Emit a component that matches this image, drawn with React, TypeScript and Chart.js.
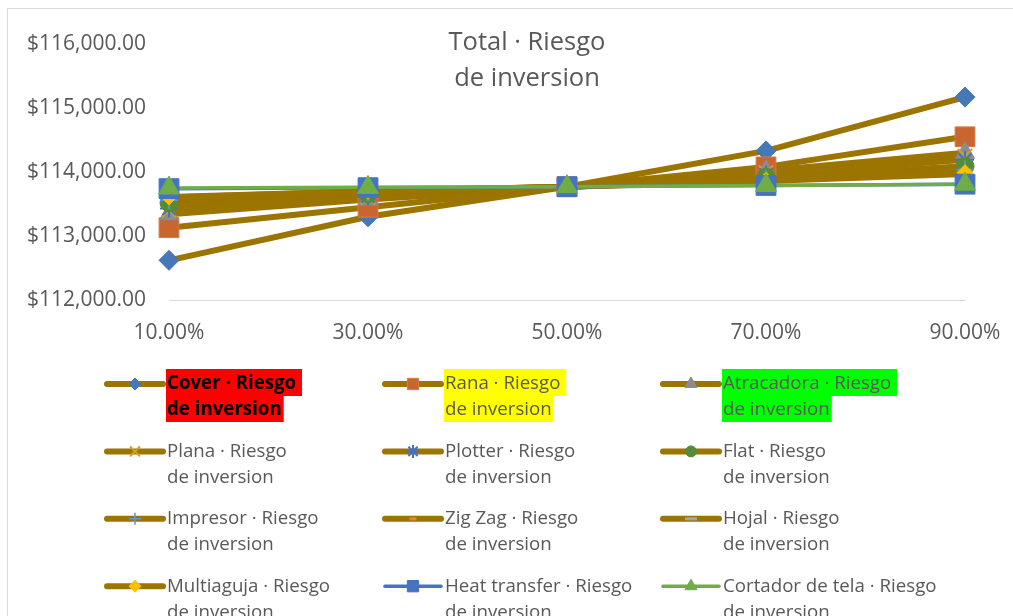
import { useEffect, useRef } from 'react';
import Chart from 'chart.js/auto';
import { drawPoint } from 'chart.js/helpers';

// Investment-risk sensitivity: total vs. risk level, one series per machine
const riskLevels = ['10.00%', '30.00%', '50.00%', '70.00%', '90.00%'];
const yMin = 112000;
const yMax = 116000;
const yStep = 1000;

const seriesNames = [
  'Cover', 'Rana', 'Atracadora',
  'Plana', 'Plotter', 'Flat',
  'Impresor', 'Zig Zag', 'Hojal',
  'Multiaguja', 'Heat transfer', 'Cortador de tela',
];

const cover = [112620, 113300, 113770, 114330, 115170];
const rana = [113130, 113450, 113770, 114080, 114550];
const atracadora = [113340, 113570, 113770, 114020, 114300];
const plana = [113400, 113600, 113770, 113990, 114250];
const plotter = [113430, 113620, 113770, 113960, 114190];
const flat = [113520, 113660, 113770, 113920, 114090];
const impresor = [113560, 113680, 113770, 113890, 114040];
const zigZag = [113580, 113690, 113770, 113880, 114010];
const hojal = [113600, 113700, 113770, 113860, 113970];
const multiaguja = [113610, 113700, 113770, 113870, 113990];
const heatTransfer = [113740, 113755, 113770, 113790, 113810];
const cortadorTela = [113750, 113760, 113770, 113790, 113810];

const seriesValues = [
  cover, rana, atracadora, plana, plotter, flat,
  impresor, zigZag, hojal, multiaguja, heatTransfer, cortadorTela,
];

const BROWN = '#9C7400';
const TEXT = '#595959';
const FONT = '"Open Sans", sans-serif';

type Style = {
  line: string;
  lineWidth: number;
  marker: string;
  fill: string;
  stroke: string;
  markerWidth: number;
  radius: number;
  legendRadius: number;
  highlight?: string;
  bold?: boolean;
};

const styles: Style[] = [
  { line: BROWN, lineWidth: 6, marker: 'rectRot', fill: '#4677B7', stroke: '#4677B7', markerWidth: 1, radius: 10, legendRadius: 6, highlight: '#FF0000', bold: true },
  { line: BROWN, lineWidth: 6, marker: 'rect', fill: '#C9652E', stroke: '#D9794A', markerWidth: 1, radius: 14, legendRadius: 8, highlight: '#FFFF00' },
  { line: BROWN, lineWidth: 6, marker: 'triangle', fill: '#8C8C8C', stroke: '#8C8C8C', markerWidth: 1, radius: 11, legendRadius: 7, highlight: '#00FF00' },
  { line: BROWN, lineWidth: 6, marker: 'crossRot', fill: '#C9A227', stroke: '#C9A227', markerWidth: 2, radius: 10, legendRadius: 7 },
  { line: BROWN, lineWidth: 6, marker: 'star', fill: '#4472C4', stroke: '#4472C4', markerWidth: 2, radius: 9, legendRadius: 6.5 },
  { line: BROWN, lineWidth: 6, marker: 'circle', fill: '#558B3A', stroke: '#558B3A', markerWidth: 1, radius: 9, legendRadius: 5.5 },
  { line: BROWN, lineWidth: 6, marker: 'cross', fill: '#5B9BD5', stroke: '#5B9BD5', markerWidth: 1.5, radius: 9, legendRadius: 6 },
  { line: BROWN, lineWidth: 6, marker: 'line', fill: '#ED7D31', stroke: '#ED7D31', markerWidth: 3, radius: 5, legendRadius: 3.5 },
  { line: BROWN, lineWidth: 6, marker: 'line', fill: '#A5A5A5', stroke: '#A5A5A5', markerWidth: 3, radius: 6, legendRadius: 6 },
  { line: BROWN, lineWidth: 6, marker: 'rectRot', fill: '#FFC000', stroke: '#FFC000', markerWidth: 1, radius: 8, legendRadius: 6 },
  { line: '#4472C4', lineWidth: 3.5, marker: 'rect', fill: '#4472C4', stroke: '#4472C4', markerWidth: 1, radius: 14, legendRadius: 8 },
  { line: '#70AD47', lineWidth: 3.5, marker: 'triangle', fill: '#70AD47', stroke: '#70AD47', markerWidth: 1, radius: 12, legendRadius: 7 },
];

const money = (v: number) =>
  '$' + v.toLocaleString('en-US', { minimumFractionDigits: 2, maximumFractionDigits: 2 });

// Outer frame and two-line title, drawn over the plot like a spreadsheet chart
const framePlugin = {
  id: 'frameAndTitle',
  beforeDraw(chart: any) {
    const ctx = chart.ctx;
    ctx.save();
    ctx.fillStyle = '#FFFFFF';
    ctx.fillRect(0, 0, chart.width, chart.height);
    ctx.strokeStyle = '#D9D9D9';
    ctx.lineWidth = 1;
    ctx.strokeRect(7.5, 8.5, 1040, 700);
    ctx.restore();
  },
  afterDraw(chart: any) {
    const ctx = chart.ctx;
    ctx.save();
    ctx.fillStyle = TEXT;
    ctx.font = `25.5px ${FONT}`;
    ctx.textAlign = 'center';
    ctx.textBaseline = 'middle';
    const cx = 527;
    ctx.fillText('Total · Riesgo', cx, 43);
    ctx.fillText('de inversion', cx, 79);
    ctx.restore();
  },
};

// Three-column legend with line samples, markers and highlighted labels
const legendPlugin = {
  id: 'sampleLegend',
  afterDraw(chart: any) {
    const ctx = chart.ctx;
    const area = chart.chartArea;
    const firstRow = area.bottom + 84;
    const rowH = 67.4;
    const colStart = area.left - 62;
    const colW = 278;
    const sampleLen = 56;
    const lineGap = 26;
    ctx.save();
    seriesNames.forEach((name, i) => {
      const s = styles[i];
      const x = colStart + (i % 3) * colW;
      const y = firstRow + Math.floor(i / 3) * rowH;
      ctx.strokeStyle = s.line;
      ctx.lineWidth = s.lineWidth;
      ctx.lineCap = 'round';
      ctx.beginPath();
      ctx.moveTo(x, y);
      ctx.lineTo(x + sampleLen, y);
      ctx.stroke();
      ctx.lineCap = 'butt';
      ctx.fillStyle = s.fill;
      ctx.strokeStyle = s.stroke;
      ctx.lineWidth = s.markerWidth;
      drawPoint(ctx, { pointStyle: s.marker as any, radius: s.legendRadius, rotation: 0, borderWidth: s.markerWidth }, x + sampleLen / 2, y);

      const tx = x + sampleLen + 4;
      const line1 = `${name} · Riesgo`;
      const line2 = 'de inversion';
      ctx.font = `${s.bold ? 'bold ' : ''}18.7px ${FONT}`;
      if (s.highlight) {
        ctx.fillStyle = s.highlight;
        const w1 = ctx.measureText(line1 + ' ').width;
        const w2 = ctx.measureText(line2).width;
        ctx.fillRect(tx - 1, y - 15, w1 + 2, 27);
        ctx.fillRect(tx - 1, y + 12, w2 + 3, 26);
      }
      ctx.fillStyle = s.bold ? '#000000' : TEXT;
      ctx.textAlign = 'left';
      ctx.textBaseline = 'middle';
      ctx.fillText(line1, tx, y);
      ctx.fillText(line2, tx, y + lineGap);
    });
    ctx.restore();
  },
};

export default function App() {
  const ref = useRef<HTMLCanvasElement | null>(null);

  useEffect(() => {
    if (!ref.current) return;
    const n = seriesNames.length;
    // lines first (underneath), then all markers on top, later series above earlier ones
    const lineSets = seriesValues.map((vals, i) => ({
      label: seriesNames[i],
      data: vals,
      borderColor: styles[i].line,
      backgroundColor: styles[i].line,
      borderWidth: styles[i].lineWidth,
      pointRadius: 0,
      pointHoverRadius: 0,
      tension: 0,
      borderJoinStyle: 'round' as const,
      order: 100 + (n - i),
    }));
    const markerSets = seriesValues.map((vals, i) => ({
      label: seriesNames[i] + ' marker',
      data: vals,
      showLine: false,
      pointStyle: styles[i].marker as any,
      pointRadius: styles[i].radius,
      pointHoverRadius: styles[i].radius,
      pointBackgroundColor: styles[i].fill,
      pointBorderColor: styles[i].stroke,
      pointBorderWidth: styles[i].markerWidth,
      order: n - i,
    }));

    const chart = new Chart(ref.current, {
      type: 'line',
      data: { labels: riskLevels, datasets: [...lineSets, ...markerSets] },
      options: {
        animation: false,
        responsive: false,
        events: [],
        layout: { padding: { top: 44, right: 48, bottom: 0, left: 0 } },
        plugins: {
          legend: { display: false },
          title: { display: false },
          tooltip: { enabled: false },
        },
        scales: {
          x: {
            offset: false,
            grid: { display: false, drawTicks: false },
            border: { display: true, color: '#D9D9D9', width: 1 },
            ticks: { color: TEXT, font: { family: FONT, size: 21 }, padding: 20, maxRotation: 0 },
            afterFit: (scale: any) => {
              scale.height = 316;
              scale.paddingLeft = 0;
              scale.paddingRight = 0;
            },
          },
          y: {
            min: yMin,
            max: yMax,
            grid: { display: false, drawTicks: false },
            border: { display: false },
            ticks: {
              stepSize: yStep,
              color: TEXT,
              font: { family: FONT, size: 21 },
              padding: 23,
              callback: (v: any) => money(Number(v)),
            },
            afterFit: (scale: any) => {
              scale.width = 169;
              scale.paddingTop = 0;
              scale.paddingBottom = 0;
            },
          },
        },
      },
      plugins: [framePlugin, legendPlugin],
    });
    return () => chart.destroy();
  }, []);

  return (
    <div style={{ position: 'absolute', left: 0, top: 0, width: 1013, height: 616, overflow: 'hidden' }}>
      <canvas ref={ref} width={1013} height={616} style={{ display: 'block' }} />
    </div>
  );
}
